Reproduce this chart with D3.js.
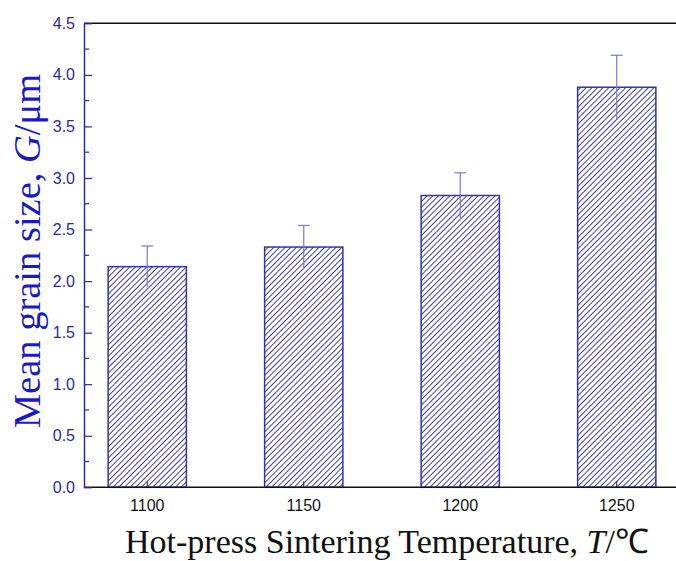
<!DOCTYPE html>
<html><head><meta charset="utf-8">
<script src="https://cdn.jsdelivr.net/npm/d3@7"></script>
<style>body{margin:0;background:#fff;}svg{display:block;}</style>
</head><body>
<script>
const categories = ["1100", "1150", "1200", "1250"];
const values = [2.14, 2.33, 2.83, 3.88];
const errors = [0.20, 0.21, 0.22, 0.31];
const yTicks = [0.0, 0.5, 1.0, 1.5, 2.0, 2.5, 3.0, 3.5, 4.0, 4.5];

const W = 676, H = 561;
const m = {left: 84, top: 23, right: 0, bottom: 74};
const svg = d3.select("body").append("svg").attr("width", W).attr("height", H);

const defs = svg.append("defs");
const pat = defs.append("pattern").attr("id", "hatch").attr("patternUnits", "userSpaceOnUse")
  .attr("width", 4).attr("height", 4).attr("patternTransform", "rotate(45)");
pat.append("rect").attr("width", 4).attr("height", 4).attr("fill", "#fff");
pat.append("line").attr("x1", 0).attr("y1", 0).attr("x2", 0).attr("y2", 4)
  .attr("stroke", "#38389c").attr("stroke-width", 1.9);

const x = d3.scaleBand().domain(categories).range([69, 695]).paddingInner(0.5).paddingOuter(0.25);
const y = d3.scaleLinear().domain([0, 4.5]).range([487.3, 23.3]);

const g = svg.append("g");

// bars
g.selectAll("rect.bar").data(categories).join("rect").attr("class", "bar")
  .attr("x", d => x(d)).attr("width", x.bandwidth())
  .attr("y", (d, i) => y(values[i])).attr("height", (d, i) => y(0) - y(values[i]))
  .attr("fill", "url(#hatch)").attr("stroke", "#3232b4").attr("stroke-width", 1.5);

// error bars
const eb = g.selectAll("g.err").data(categories).join("g").attr("class", "err");
eb.append("line").attr("x1", d => x(d) + x.bandwidth()/2).attr("x2", d => x(d) + x.bandwidth()/2)
  .attr("y1", (d, i) => y(values[i] - errors[i])).attr("y2", (d, i) => y(values[i] + errors[i]))
  .attr("stroke", "#7a7ac8").attr("stroke-width", 1.2);
eb.append("line").attr("x1", d => x(d) + x.bandwidth()/2 - 6).attr("x2", d => x(d) + x.bandwidth()/2 + 6)
  .attr("y1", (d, i) => y(values[i] + errors[i])).attr("y2", (d, i) => y(values[i] + errors[i]))
  .attr("stroke", "#7a7ac8").attr("stroke-width", 1.2);

// top frame line
g.append("line").attr("x1", m.left).attr("x2", W).attr("y1", y(4.5)).attr("y2", y(4.5))
  .attr("stroke", "#111").attr("stroke-width", 1.5);

// x axis
const xAxis = d3.axisBottom(x).tickSizeInner(-6).tickSizeOuter(0).tickPadding(12);
const xg = g.append("g").attr("transform", `translate(0,${y(0)})`).call(xAxis);
xg.select(".domain").remove();
xg.append("line").attr("x1", m.left).attr("x2", W).attr("stroke", "#111").attr("stroke-width", 1.5);
xg.selectAll(".tick line").attr("stroke", "#222").attr("stroke-width", 1);
xg.selectAll(".tick text").attr("fill", "#111").attr("font-family", "Liberation Sans, Arial, sans-serif").attr("font-size", 16);

// y axis
const yAxis = d3.axisLeft(y).tickValues(yTicks).tickFormat(d3.format(".1f")).tickSizeInner(-8).tickSizeOuter(0).tickPadding(9);
const yg = g.append("g").attr("transform", `translate(${m.left},0)`).call(yAxis);
yg.select(".domain").attr("stroke", "#2a2aa8").attr("stroke-width", 1.5);
yg.selectAll(".tick line").attr("stroke", "#2a2aa8").attr("stroke-width", 1.2);
yg.selectAll(".tick text").attr("fill", "#2a2aa8").attr("font-family", "Liberation Sans, Arial, sans-serif").attr("font-size", 16);
const minor = d3.range(0.25, 4.5, 0.5);
yg.selectAll("line.minor").data(minor).join("line").attr("class", "minor")
  .attr("x1", 0).attr("x2", 5).attr("y1", d => y(d)).attr("y2", d => y(d))
  .attr("stroke", "#2a2aa8").attr("stroke-width", 1.2);

// y label
const yl = svg.append("text").attr("transform", "translate(40,251) rotate(-90)")
  .attr("text-anchor", "middle").attr("fill", "#1a1ac0")
  .attr("font-family", "Liberation Serif, Times New Roman, serif").attr("font-size", 38.5);
yl.append("tspan").text("Mean grain size, ");
yl.append("tspan").attr("font-style", "italic").text("G");
yl.append("tspan").text("/μm");

// x label
const xl = svg.append("text").attr("x", 387).attr("y", 553)
  .attr("text-anchor", "middle").attr("fill", "#111")
  .attr("font-family", "Liberation Serif, Times New Roman, serif").attr("font-size", 34);
xl.append("tspan").text("Hot-press Sintering Temperature, ");
xl.append("tspan").attr("font-style", "italic").text("T");
xl.append("tspan").text("/℃");
</script>
</body></html>
